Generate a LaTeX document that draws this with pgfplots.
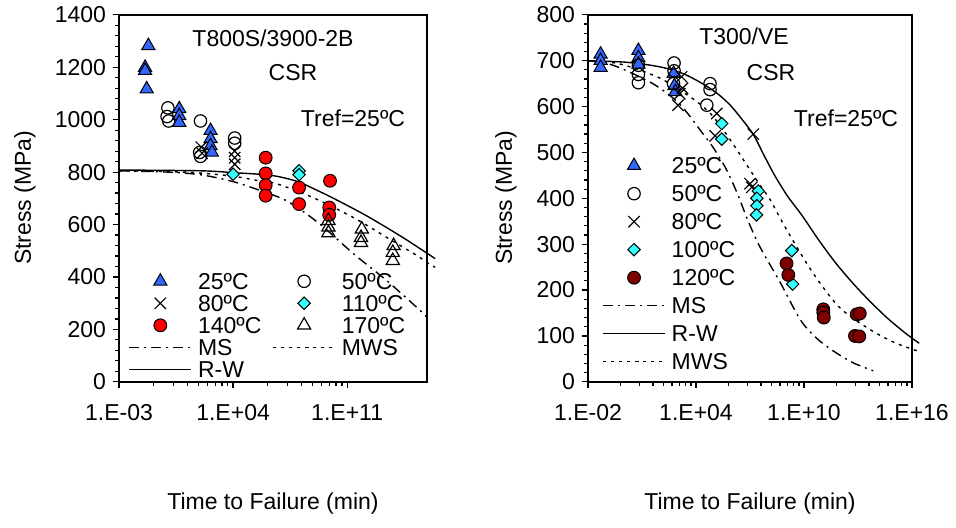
\documentclass[border=0pt]{standalone}
\usepackage{pgfplots}
\pgfplotsset{compat=1.18}
\usepackage{fontspec}
\setmainfont{Liberation Sans}
\definecolor{triblue}{HTML}{3366FF}
\definecolor{dia}{HTML}{33FFFF}
\definecolor{darkred}{HTML}{800000}

\pgfplotsset{
  legend image code/.code={\draw[mark repeat=2,mark phase=2,#1] plot coordinates {(0pt,0pt) (15.5pt,0pt) (31pt,0pt)};},
  csr/.style={
    scale only axis, clip=false,
    axis line style={black, line width=0.7pt},
    ymin=0,
    tick align=outside, xtick pos=bottom, ytick pos=left,
    major tick length=3pt, minor tick length=2pt,
    every tick/.style={black, line width=0.6pt},
    tick label style={font=\fontsize{11.5}{13.5}\selectfont},
    /pgf/number format/assume math mode=true,
    /pgf/number format/1000 sep={},
    xticklabel style={yshift=-5pt},
    legend style={draw=none, fill=none, inner sep=0pt,
      font=\fontsize{11.5}{13.5}\selectfont,
      nodes={inner sep=1.5pt, text height=8pt, text depth=0pt},
      cells={anchor=west}, column sep=1.5pt},
  },
  t25/.style={only marks, mark=triangle*, mark size=3.8pt, mark options={fill=triblue, draw=black, line width=0.5pt}},
  c50/.style={only marks, mark=o, mark size=3.1pt, mark options={draw=black, line width=0.6pt}},
  x80/.style={only marks, mark=x, mark size=4pt, mark options={draw=black, line width=0.6pt}},
  dmd/.style={only marks, mark=square*, mark size=2.2pt, mark options={fill=dia, draw=black, line width=0.5pt, rotate=45}},
  rc/.style={only marks, mark=*, mark size=3.2pt, mark options={fill=#1, draw=black, line width=0.5pt}},
  t170/.style={only marks, mark=triangle, mark size=3.8pt, mark options={draw=black, line width=0.6pt}},
  ms/.style={black, no marks, smooth, line width=0.7pt, dash pattern=on 5pt off 2.5pt on 1pt off 2.5pt},
  mws/.style={black, no marks, smooth, line width=0.7pt, dash pattern=on 1.5pt off 2.5pt},
  rw/.style={black, no marks, smooth, line width=0.7pt},
}

\begin{document}
\begin{tikzpicture}
\path (0pt,0pt) rectangle (478pt,-263.5pt);

% left panel
\begin{axis}[csr, at={(59.5pt,-190.5pt)}, anchor=south west,
  width=154pt, height=183.5pt,
  xmin=-3, xmax=15.9, ymax=1400,
  xtick={-3,4,11}, xticklabels={1.E-03,1.E+04,1.E+11},
  minor xtick={-0.893,0.340,1.214,1.893,2.447,2.916,3.321,3.680,6.107,7.340,8.214,8.893,9.447,9.916,10.321,10.680},
  ytick={0,200,...,1400}, minor y tick num=4,
  legend columns=2,
  legend style={at={(axis description cs:0.03,0.305)}, anchor=north west,
    /tikz/column 2/.style={column sep=4pt}},
]
\addplot[t25] coordinates {(-1.20,1282)(-1.40,1199)(-1.40,1187)(-1.30,1117)(0.70,1041)(0.70,1015)(0.70,989)(2.62,958)(2.62,927)(2.62,900)(2.70,875)};
\addlegendentry{25ºC}
\addplot[c50] coordinates {(0.0,1045)(-0.05,1012)(0.05,995)(2.0,995)(1.95,875)(2.0,860)(4.1,930)(4.1,910)};
\addlegendentry{50ºC}
\addplot[x80] coordinates {(2.05,895)(2.1,872)(4.1,880)(4.1,855)(4.1,830)};
\addlegendentry{80ºC}
\addplot[dmd] coordinates {(4.0,792)(8.05,805)(8.05,790)};
\addlegendentry{110ºC}
\addplot[rc=red] coordinates {(6.0,855)(6.0,795)(6.0,750)(6.0,710)(8.05,741)(8.05,678)(9.95,767)(9.9,665)(9.9,637)};
\addlegendentry{140ºC}
\addplot[t170] coordinates {(9.85,615)(9.85,590)(9.85,568)(11.9,582)(11.85,550)(11.85,531)(13.85,519)(13.8,493)(13.8,462)};
\addlegendentry{170ºC}
\addplot[ms] coordinates {(-3,805)(0,800)(2,790)(3.8,767)(5.2,740)(7.3,690)(9.3,603)(11.4,488)(13.45,385)(15.5,271)(15.9,245)};
\addlegendentry{MS}
\addplot[mws] coordinates {(-3,805)(1,800)(3.8,786)(5.5,768)(6.7,755)(8.9,703)(11.4,626)(13.45,550)(15.3,481)(15.9,455)(16.4,437)};
\addlegendentry{MWS}
\addplot[rw] coordinates {(-3,808)(2,805)(4,798)(6,790)(7,780)(8,763)(9,735)(10.1,702)(12.2,633)(14.25,557)(15.5,507)(16.4,470)};
\addlegendentry{R-W}
\end{axis}

% right panel
\begin{axis}[csr, at={(294pt,-190.5pt)}, anchor=south west,
  width=162pt, height=183.5pt,
  xmin=-2, xmax=16, ymax=800,
  xtick={-2,4,10,16}, xticklabels={1.E-02,1.E+04,1.E+10,1.E+16},
  minor xtick={-0.194,0.863,1.612,2.194,2.669,3.070,3.418,3.725,5.806,6.863,7.612,8.194,8.669,9.070,9.418,9.725,11.806,12.863,13.612,14.194,14.669,15.070,15.418,15.725},
  ytick={0,100,...,800}, minor y tick num=4,
  legend style={at={(axis description cs:0.043,0.62)}, anchor=north west, row sep=3pt},
]
\addplot[t25] coordinates {(-1.3,714)(-1.3,700)(-1.3,685)(0.8,722)(0.8,706)(0.8,692)(2.76,672)(2.8,645)(2.85,632)};
\addlegendentry{25ºC}
\addplot[c50] coordinates {(0.8,690)(0.8,670)(0.8,652)(2.78,695)(2.78,678)(2.75,650)(4.78,650)(4.78,637)(4.6,603)};
\addlegendentry{50ºC}
\addplot[x80] coordinates {(3.2,665)(3.25,640)(3.1,628)(3.0,603)(5.15,585)(5.06,536)(7.18,540)(7.0,432)(7.1,424)};
\addlegendentry{80ºC}
\addplot[dmd] coordinates {(5.43,563)(5.43,529)(7.46,416)(7.38,400)(7.38,384)(7.36,364)(9.32,286)(9.37,213)};
\addlegendentry{100ºC}
\addplot[rc=darkred] coordinates {(9.03,258)(9.13,233)(11.07,158)(11.07,151)(11.1,140)(12.93,147)(13.1,149)(12.83,100)(13.07,99)};
\addlegendentry{120ºC}
\addplot[ms] coordinates {(-2,700)(-0.6,690)(1.6,650)(3.1,605)(4.4,540)(5.0,508)(5.7,462)(6.3,410)(6.9,350)(7.5,298)(8.1,256)(8.7,215)(9.8,135)(10.7,95)(11.6,68)(12.7,42)(13.85,24)};
\addlegendentry{MS}
\addplot[rw] coordinates {(-2,700)(0,697)(1.5,690)(2.6,681)(3.5,668)(4.4,649)(5.2,628)(5.9,603)(6.6,570)(7.2,538)(7.8,492)(8.4,448)(9.1,404)(9.9,362)(10.8,310)(11.7,262)(12.6,220)(13.5,182)(14.6,140)(15.7,104)(16.4,84)};
\addlegendentry{R-W}
\addplot[mws] coordinates {(-2,700)(-0.5,695)(0.7,682)(2,662)(3.1,636)(4,612)(4.8,585)(5.5,550)(6.2,510)(6.9,468)(7.5,432)(8.1,398)(9,334)(10.4,243)(11.9,165)(13.5,118)(15,86)(16.4,66)};
\addlegendentry{MWS}
\end{axis}

\begin{scope}[font=\fontsize{11.5}{13.5}\selectfont]
\node at (136.5pt,-18.5pt) {T800S/3900-2B};
\node at (146.5pt,-36pt) {CSR};
\node at (176.5pt,-58.5pt) {Tref=25ºC};
\node at (372pt,-17.5pt) {T300/VE};
\node at (385.5pt,-36pt) {CSR};
\node at (423pt,-58.5pt) {Tref=25ºC};
\node[rotate=90] at (12.5pt,-98.5pt) {Stress (MPa)};
\node[rotate=90] at (253pt,-98.5pt) {Stress (MPa)};
\node at (136.5pt,-251.5pt) {Time to Failure (min)};
\node at (375pt,-251.5pt) {Time to Failure (min)};
\end{scope}
\end{tikzpicture}
\end{document}
